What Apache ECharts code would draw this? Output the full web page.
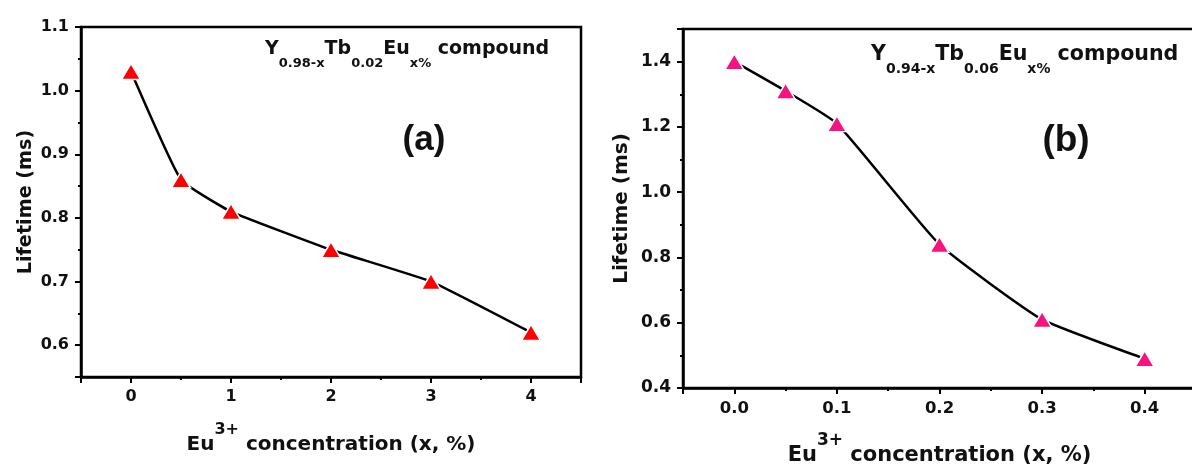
<!DOCTYPE html>
<html><head><meta charset="utf-8">
<script src="https://cdn.jsdelivr.net/npm/echarts@6/dist/echarts.min.js"></script>
<style>html,body{margin:0;padding:0;background:#fff}#c{width:1192px;height:468px}</style>
</head><body><div id="c"></div>
<script>
// Panel (a): Y0.98-xTb0.02Eux%
const concA = [0, 0.5, 1, 2, 3, 4];
const lifeA = [1.03, 0.86, 0.81, 0.75, 0.70, 0.62];
const xTicksA = ['0', '1', '2', '3', '4'];
const yTicksA = ['0.6', '0.7', '0.8', '0.9', '1.0', '1.1'];
// Panel (b): Y0.94-xTb0.06Eux%
const concB = [0, 0.05, 0.1, 0.2, 0.3, 0.4];
const lifeB = [1.40, 1.31, 1.21, 0.84, 0.61, 0.49];
const xTicksB = ['0.0', '0.1', '0.2', '0.3', '0.4'];
const yTicksB = ['0.4', '0.6', '0.8', '1.0', '1.2', '1.4'];

const FONT = '"DejaVu Sans", sans-serif';
const TXT = '#111';

function fmt(list, digits) {
  return function (v) {
    const k = v * Math.pow(10, digits);
    if (Math.abs(k - Math.round(k)) > 1e-6) return '';
    const s = digits === 0 ? String(Math.round(v)) : v.toFixed(digits);
    return list.indexOf(s) >= 0 ? s : '';
  };
}
function pairs(xs, ys) { return xs.map((x, i) => [x, ys[i]]); }

function xAxisCfg(gi, min, max, list, digits, fs, nameFs, supFs, gap) {
  return {
    type: 'value', gridIndex: gi, min: min, max: max, splitNumber: 5,
    axisLine: { show: true, onZero: false, lineStyle: { color: '#000', width: 2.5 } },
    axisTick: { show: true, length: 6, lineStyle: { color: '#000', width: 2 } },
    minorTick: { show: true, splitNumber: 2, length: 3, lineStyle: { color: '#000', width: 2 } },
    splitLine: { show: false },
    axisLabel: { formatter: fmt(list, digits), margin: 12, color: TXT, fontFamily: FONT, fontWeight: 'bold', fontSize: fs },
    name: '{m|Eu}{p|3+}{m| concentration (x, %)}',
    nameLocation: 'middle', nameGap: gap,
    nameTextStyle: {
      rich: {
        m: { fontFamily: FONT, fontWeight: 'bold', fontSize: nameFs, color: TXT, lineHeight: 15 + nameFs / 2 + supFs / 2, verticalAlign: 'bottom' },
        p: { fontFamily: FONT, fontWeight: 'bold', fontSize: supFs, color: TXT, lineHeight: supFs, verticalAlign: 'top' }
      }
    }
  };
}
function yAxisCfg(gi, min, max, list, fs, nameFs, gap, interval) {
  const c = {
    type: 'value', gridIndex: gi, min: min, max: max, splitNumber: 5,
    axisLine: { show: true, onZero: false, lineStyle: { color: '#000', width: 2.5 } },
    axisTick: { show: true, length: 6, lineStyle: { color: '#000', width: 2 } },
    minorTick: { show: true, splitNumber: 2, length: 3, lineStyle: { color: '#000', width: 2 } },
    splitLine: { show: false },
    axisLabel: { formatter: fmt(list, 1), margin: 12, color: TXT, fontFamily: FONT, fontWeight: 'bold', fontSize: fs },
    name: 'Lifetime (ms)', nameLocation: 'middle', nameGap: gap,
    nameTextStyle: { fontFamily: FONT, fontWeight: 'bold', fontSize: nameFs, color: TXT }
  };
  if (interval) c.interval = interval;
  return c;
}

const chart = echarts.init(document.getElementById('c'), null, { renderer: 'canvas' });
chart.setOption({
  backgroundColor: '#fff',
  animation: false,
  grid: [
    { left: 81, top: 27, width: 500, height: 350, outerBoundsMode: 'none', containLabel: false, show: true, borderColor: '#000', borderWidth: 2.5, backgroundColor: 'transparent' },
    { left: 683, top: 29, width: 513, height: 359, outerBoundsMode: 'none', containLabel: false, show: true, borderColor: '#000', borderWidth: 2.5, backgroundColor: 'transparent' }
  ],
  xAxis: [
    xAxisCfg(0, -0.5, 4.5, xTicksA, 0, 16, 20, 16, 45),
    xAxisCfg(1, -0.05, 0.45, xTicksB, 1, 16.5, 21, 17, 44)
  ],
  yAxis: [
    yAxisCfg(0, 0.55, 1.1, yTicksA, 16, 19.2, 45),
    yAxisCfg(1, 0.4, 1.5, yTicksB, 17, 20, 51, 0.2)
  ],
  series: [
    {
      type: 'line', xAxisIndex: 0, yAxisIndex: 0, data: pairs(concA, lifeA), smooth: 0.12,
      symbol: 'triangle', symbolSize: [19, 16],
      lineStyle: { color: '#000', width: 2.5 },
      itemStyle: { color: '#ff0000', borderColor: '#fff', borderWidth: 1.5 }
    },
    {
      type: 'line', xAxisIndex: 1, yAxisIndex: 1, data: pairs(concB, lifeB), smooth: 0.15,
      symbol: 'triangle', symbolSize: [19, 16],
      lineStyle: { color: '#000', width: 2.5 },
      itemStyle: { color: '#f7137f', borderColor: '#fff', borderWidth: 1.5 }
    }
  ],
  graphic: [
    {
      type: 'text', x: 265, y: 40, silent: true,
      style: {
        text: '{m|Y}{s|0.98-x}{m|Tb}{s|0.02}{m|Eu}{s|x%}{m| compound}',
        align: 'left', verticalAlign: 'top',
        rich: {
          m: { fontFamily: FONT, fontWeight: 'bold', fontSize: 19, fill: TXT, lineHeight: 20, verticalAlign: 'top' },
          s: { fontFamily: FONT, fontWeight: 'bold', fontSize: 13, fill: TXT, lineHeight: 30.5, verticalAlign: 'bottom' }
        }
      }
    },
    {
      type: 'text', x: 871, y: 44.5, silent: true,
      style: {
        text: '{m|Y}{s|0.94-x}{m|Tb}{s|0.06}{m|Eu}{s|x%}{m| compound}',
        align: 'left', verticalAlign: 'top',
        rich: {
          m: { fontFamily: FONT, fontWeight: 'bold', fontSize: 20.6, fill: TXT, lineHeight: 21, verticalAlign: 'top' },
          s: { fontFamily: FONT, fontWeight: 'bold', fontSize: 14, fill: TXT, lineHeight: 32.3, verticalAlign: 'bottom' }
        }
      }
    },
    {
      type: 'text', x: 424, y: 140, silent: true,
      style: { text: '(a)', align: 'center', verticalAlign: 'middle', fontFamily: '"Liberation Sans", Arial, sans-serif', fontWeight: 'bold', fontSize: 35, fill: TXT }
    },
    {
      type: 'text', x: 1066, y: 141, silent: true,
      style: { text: '(b)', align: 'center', verticalAlign: 'middle', fontFamily: '"Liberation Sans", Arial, sans-serif', fontWeight: 'bold', fontSize: 37, fill: TXT }
    }
  ]
});
</script>
</body></html>
